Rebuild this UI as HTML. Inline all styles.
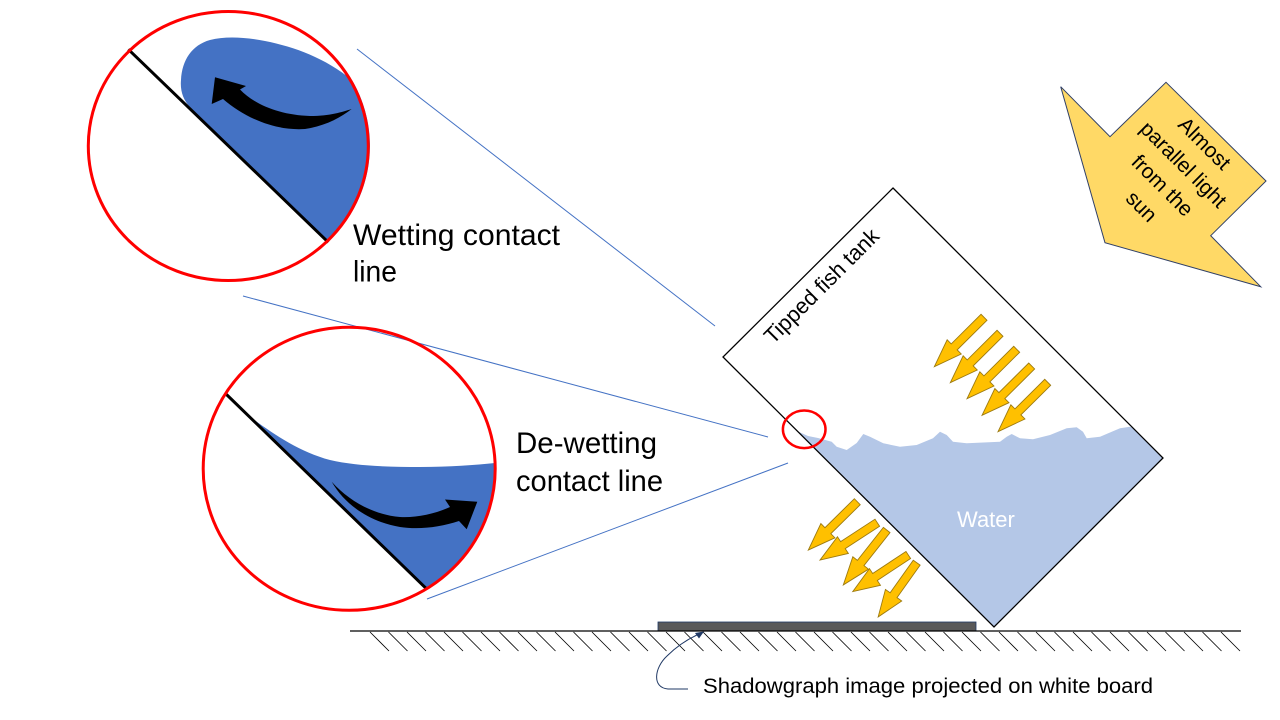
<!DOCTYPE html>
<html>
<head>
<meta charset="utf-8">
<style>
  html, body { margin:0; padding:0; background:#ffffff; }
  body { width:1280px; height:720px; overflow:hidden; }
  svg { display:block; }
  text { font-family: "Liberation Sans", "DejaVu Sans", sans-serif; }
</style>
</head>
<body>
<svg width="1280" height="720" viewBox="0 0 1280 720" xmlns="http://www.w3.org/2000/svg">
  <defs>
    <polygon id="ya" points="0,-4.2 42,-4.2 42,-10 70,0 42,10 42,4.2 0,4.2" fill="#ffc000" stroke="#9c7a10" stroke-width="0.9" stroke-linejoin="miter"/>
  </defs>
  <rect width="1280" height="720" fill="#ffffff"/>

  <!-- blue connector lines -->
  <g stroke="#4472c4" stroke-width="1" fill="none">
    <line x1="357" y1="49" x2="715" y2="326"/>
    <line x1="243" y1="296" x2="768" y2="437"/>
    <line x1="427" y1="599" x2="788" y2="463"/>
  </g>

  <!-- top circle (wetting) -->
  <path d="M190,107 C183,100 180,90 181,80 C182,60 192,45 210,40 C225,36 245,37 265,41 C295,47 325,58 352,80 A140 134.5 0 0 1 328,242 Z" fill="#4472c4"/>
  <line x1="128.3" y1="49.3" x2="328.3" y2="242.3" stroke="#000" stroke-width="3"/>
  <path d="M215,77.3 L246,86 L240,89.5 C255,105 280,115 310,116 C330,116 342,112 351.7,109 C340,118 325,126 305,129 C275,131 245,118 223,99 L211.7,104 Z" fill="#000"/>
  <ellipse cx="228.3" cy="146" rx="140" ry="134.5" fill="none" stroke="#ff0000" stroke-width="3"/>

  <!-- bottom circle (de-wetting) -->
  <path d="M253,419 C275,435 300,452 330,460 C355,466 390,467 420,467 C450,467 475,465 495,463 A146 141.5 0 0 1 426,588 Z" fill="#4472c4"/>
  <line x1="226" y1="394" x2="426" y2="588.3" stroke="#000" stroke-width="3"/>
  <path d="M331.7,481.7 C345,505 370,522 400,527 C420,530 440,527 459,521 L466.7,529.3 L477.3,501.7 L445,499.5 L450,507 C435,514 415,518 400,517 C375,515 350,502 331.7,481.7 Z" fill="#000"/>
  <ellipse cx="349.2" cy="468.8" rx="146" ry="141.5" fill="none" stroke="#ff0000" stroke-width="3"/>

  <!-- labels -->
  <text x="353" y="245" font-size="30" fill="#000" textLength="207" lengthAdjust="spacingAndGlyphs">Wetting contact</text>
  <text x="353" y="281.7" font-size="30" fill="#000" textLength="44" lengthAdjust="spacingAndGlyphs">line</text>
  <text x="516" y="453" font-size="30" fill="#000" textLength="141" lengthAdjust="spacingAndGlyphs">De-wetting</text>
  <text x="516" y="491" font-size="30" fill="#000" textLength="147" lengthAdjust="spacingAndGlyphs">contact line</text>

  <!-- water -->
  <polygon fill="#b4c7e7" points="797,431 808,436 818,438 831.7,441.7 836.7,446.7 846.7,450 856.7,443 863.3,434 870,436.7 883.3,443.3 900,446.7 916.7,445 933,438.3 940,431.7 946.7,435 953,441.7 966.7,443.3 1000,441.7 1006.7,436.7 1011.7,434 1020,438.3 1033,439.3 1050,435 1066.7,428.3 1076.7,427.3 1083,431.7 1086.7,438.3 1100,436.7 1120,428.3 1130,426.7 1133,428 1163,458 994,627"/>
  <!-- tank -->
  <polygon points="893,188 1163,458 994,627 723,357" fill="none" stroke="#000" stroke-width="1.3" stroke-linejoin="miter"/>
  <text transform="translate(773,345) rotate(-45)" font-size="22" fill="#000" textLength="152" lengthAdjust="spacingAndGlyphs">Tipped fish tank</text>
  <text x="957" y="527" font-size="22" fill="#ffffff">Water</text>

  <!-- small red ellipse -->
  <ellipse cx="804.2" cy="429.3" rx="21.3" ry="18.8" fill="none" stroke="#ff0000" stroke-width="2.5"/>

  <!-- upper yellow arrows -->
  <use href="#ya" transform="translate(984,317.3) rotate(135.2)"/>
  <use href="#ya" transform="translate(1000,333.3) rotate(135.2)"/>
  <use href="#ya" transform="translate(1016.7,349.3) rotate(135.2)"/>
  <use href="#ya" transform="translate(1031.7,366) rotate(135.2)"/>
  <use href="#ya" transform="translate(1047.7,382.3) rotate(135.2)"/>

  <!-- lower yellow arrows -->
  <use href="#ya" transform="translate(857.3,501.7) rotate(135.4) scale(0.983,1)"/>
  <use href="#ya" transform="translate(877.3,522.7) rotate(146.9) scale(0.977,1)"/>
  <use href="#ya" transform="translate(886.7,530) rotate(128.3) scale(1,1)"/>
  <use href="#ya" transform="translate(908.3,555) rotate(146.6) scale(0.95,1)"/>
  <use href="#ya" transform="translate(916.7,562.7) rotate(125.4) scale(0.95,1)"/>

  <!-- sun arrow -->
  <polygon points="1060.7,86.7 1110,136.7 1166,82.3 1266,181 1210.7,235.7 1260.7,286.7 1105,242.7" fill="#ffd966" stroke="#2f3f66" stroke-width="1" stroke-linejoin="miter"/>
  <g transform="translate(1173,175) rotate(45)" font-size="21" fill="#000" text-anchor="middle">
    <text x="0" y="-37.5">Almost</text>
    <text x="0" y="-7.8">parallel light</text>
    <text x="0" y="21.9">from the</text>
    <text x="0" y="51.5">sun</text>
  </g>

  <!-- ground -->
  <rect x="658" y="622" width="318" height="9" fill="#595959" stroke="#1f3864" stroke-width="0.8"/>
  <line x1="350" y1="631" x2="1241" y2="631" stroke="#000" stroke-width="1.3"/>
  <g stroke="#000" stroke-width="0.8">
    <path d="M370,632 l19,19 M388.5,632 l19,19 M407,632 l19,19 M425.5,632 l19,19 M444,632 l19,19 M462.5,632 l19,19 M481,632 l19,19 M499.5,632 l19,19 M518,632 l19,19 M536.5,632 l19,19 M555,632 l19,19 M573.5,632 l19,19 M592,632 l19,19 M610.5,632 l19,19 M629,632 l19,19 M647.5,632 l19,19 M666,632 l19,19 M684.5,632 l19,19 M703,632 l19,19 M721.5,632 l19,19 M740,632 l19,19 M758.5,632 l19,19 M777,632 l19,19 M795.5,632 l19,19 M814,632 l19,19 M832.5,632 l19,19 M851,632 l19,19 M869.5,632 l19,19 M888,632 l19,19 M906.5,632 l19,19 M925,632 l19,19 M943.5,632 l19,19 M962,632 l19,19 M980.5,632 l19,19 M999,632 l19,19 M1017.5,632 l19,19 M1036,632 l19,19 M1054.5,632 l19,19 M1073,632 l19,19 M1091.5,632 l19,19 M1110,632 l19,19 M1128.5,632 l19,19 M1147,632 l19,19 M1165.5,632 l19,19 M1184,632 l19,19 M1202.5,632 l19,19 M1221,632 l19,19"/>
  </g>

  <!-- shadowgraph callout -->
  <path d="M688,689 L668,689 C652,688 654,668 667,656 C677,646 688,639 699,634" fill="none" stroke="#1f3864" stroke-width="1"/>
  <polygon points="704,631.5 695,633 699,638.5" fill="#1f3864"/>
  <text x="703" y="693" font-size="21" fill="#000" textLength="450" lengthAdjust="spacingAndGlyphs">Shadowgraph image projected on white board</text>
</svg>
</body>
</html>
